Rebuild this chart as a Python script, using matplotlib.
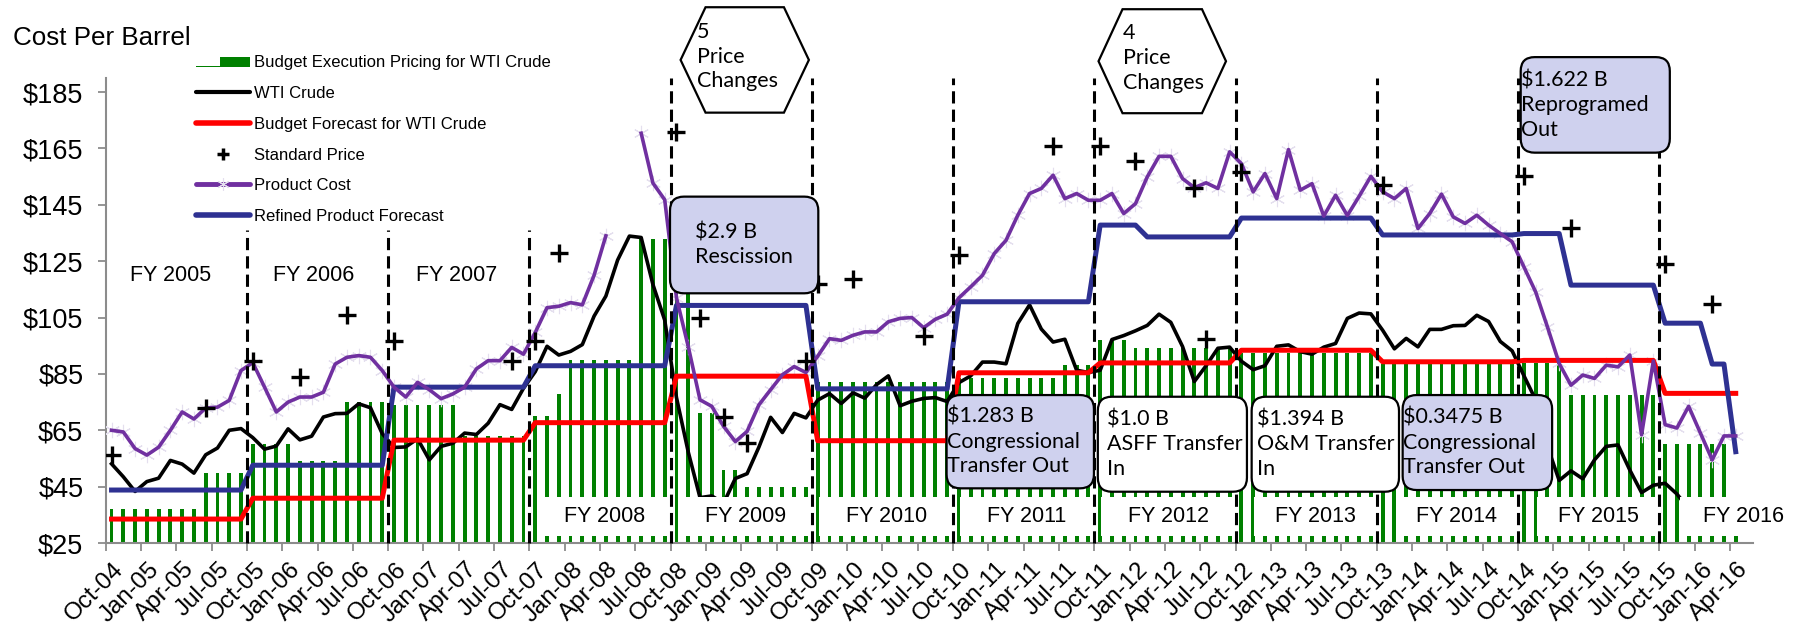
import matplotlib
matplotlib.use("Agg")
import matplotlib.pyplot as plt
import numpy as np
import pandas as pd
from matplotlib.lines import Line2D
from matplotlib.patches import FancyBboxPatch, Patch, Polygon, Rectangle
from matplotlib.legend_handler import HandlerPatch
from matplotlib.transforms import IdentityTransform, ScaledTranslation

plt.rcParams["font.family"] = ["Liberation Sans", "DejaVu Sans"]
CALLOUT_FONT = ["Lato", "DejaVu Sans"]

GREEN = "#008000"
RED = "#ff0000"
NAVY = "#2e3192"
PURPLE = "#7030a0"
LAVENDER = "#cfd1ee"
GREY = "#8c8c8c"

# monthly axis, Oct-04 .. Apr-16
months = pd.date_range("2004-10-01", "2016-04-01", freq="MS")
tick_labels = months[::3].strftime("%b-%y")
y_ticks = [25, 45, 65, 85, 105, 125, 145, 165, 185]

# WTI crude, monthly average $/bbl, Oct-04 .. Dec-15
wti_crude = [
    53.1, 48.5, 43.3,
    46.8, 48.0, 54.3, 53.0, 49.8, 56.3, 58.7, 65.0, 65.6, 62.4, 58.3, 59.4,
    65.5, 61.6, 62.9, 69.7, 70.9, 71.0, 74.4, 73.0, 63.8, 58.9, 59.1, 62.0,
    54.5, 59.3, 60.4, 64.0, 63.5, 67.5, 74.1, 72.4, 79.9, 85.8, 94.8, 91.7,
    93.0, 95.4, 105.5, 112.6, 125.4, 133.9, 133.4, 116.7, 104.1, 76.6, 57.3, 41.1,
    41.7, 39.1, 47.9, 49.6, 59.0, 69.6, 64.2, 71.0, 69.4, 75.7, 78.0, 74.5,
    78.3, 76.4, 81.2, 84.3, 73.7, 75.3, 76.3, 76.6, 75.2, 81.9, 84.3, 89.2,
    89.2, 88.6, 102.9, 109.5, 100.9, 96.3, 97.3, 86.3, 85.5, 86.3, 97.2, 98.6,
    100.3, 102.2, 106.2, 103.3, 94.7, 82.3, 87.9, 94.1, 94.5, 89.5, 86.5, 87.9,
    94.8, 95.3, 92.9, 92.0, 94.5, 95.8, 104.7, 106.6, 106.3, 100.5, 93.9, 97.6,
    94.6, 100.8, 100.8, 102.1, 102.2, 105.8, 103.6, 96.5, 93.2, 84.4, 75.8, 59.3,
    47.2, 50.6, 47.8, 54.5, 59.3, 59.8, 50.9, 42.9, 45.5, 46.2, 42.4, 37.2,
]

# refined product cost, Oct-04 .. Apr-16 (no data May/Jun-08)
product_cost = [
    65.0, 64.4, 58.5, 56.2, 59.0, 65.0, 71.5, 69.0, 72.9, 73.2, 75.6, 86.2,
    89.0, 80.3, 71.5, 75.0, 76.8, 76.8, 78.5, 88.5, 90.9, 91.5, 90.9, 86.2,
    80.3, 76.8, 82.0, 79.4, 76.2, 77.9, 80.3, 86.8, 89.7, 89.7, 94.4, 92.0,
    99.7, 108.5, 109.0, 110.3, 109.5, 120.0, 134.0, np.nan, np.nan, 170.4, 152.7, 146.8,
    112.0, 94.7, 75.8, 73.5, 66.4, 61.0, 64.6, 74.0, 79.4, 84.7, 87.6, 85.5,
    91.3, 97.5, 96.9, 98.7, 99.9, 99.9, 103.5, 104.7, 105.0, 101.4, 104.4, 106.2,
    112.0, 115.9, 120.0, 127.7, 132.4, 141.3, 149.0, 150.8, 155.5, 147.2, 149.0, 146.6,
    146.6, 149.0, 141.9, 145.4, 154.9, 162.2, 162.2, 154.3, 151.1, 152.8, 150.8, 163.8,
    159.6, 149.6, 156.1, 147.2, 164.6, 150.2, 152.5, 141.0, 148.4, 141.2, 148.0, 155.1,
    149.6, 147.2, 150.8, 136.6, 141.9, 148.8, 140.7, 138.4, 141.3, 137.8, 134.8, 131.9,
    123.0, 114.1, 101.7, 88.7, 81.0, 84.6, 83.4, 88.1, 87.5, 91.7, 63.4, 89.6,
    67.0, 65.8, 73.5, 64.0, 54.5, 63.0, 63.0,
]

# budget execution price (bars): level and number of months at that level
exec_price_levels = [37, 50, 60, 54, 75, 74, 63, 70, 78, 90, 133, 71, 51, 45,
                     82, 83.5, 88, 97, 94.3, 92.5, 88.5, 88.7, 77.5, 60, 40]
exec_price_months = [8, 4, 4, 4, 4, 6, 6, 2, 1, 6, 5, 2, 2, 6,
                     12, 9, 3, 3, 9, 12, 12, 4, 8, 6, 1]

# budget forecast for WTI crude, one level per fiscal year
budget_forecast_levels = [33.5, 40.9, 61.5, 67.7, 84.2, 61.3, 85.4, 88.9, 93.4, 89.3, 89.8, 78.1]
budget_forecast_months = [12, 12, 12, 12, 12, 12, 12, 12, 12, 12, 12, 7]

# refined product forecast, with mid-year changes
refined_forecast_levels = [43.8, 52.6, 80.3, 87.9, 109.3, 79.7, 110.6, 137.8, 133.6,
                           140.3, 134.3, 134.8, 116.5, 103.0, 88.5, 57.4]
refined_forecast_months = [12, 12, 12, 12, 12, 12, 12, 4, 8, 12, 12, 4, 8, 4, 2, 1]

standard_price_dates = ["2004-10", "2005-06", "2005-10", "2006-02", "2006-06", "2006-10",
                        "2007-08", "2007-10", "2007-12", "2008-10", "2008-12", "2009-02",
                        "2009-04", "2009-09", "2009-10", "2010-01", "2010-07", "2010-10",
                        "2011-06", "2011-10", "2012-01", "2012-06", "2012-07", "2012-10",
                        "2013-10", "2014-10", "2015-02", "2015-10", "2016-02"]
standard_price = [56.2, 73.0, 89.5, 84.0, 106.0, 96.5, 89.7, 96.8, 127.8, 171.0, 105.0, 69.8,
                  60.6, 89.5, 117.0, 118.5, 98.5, 127.3, 165.8, 166.0, 160.5, 151.0, 97.4,
                  156.8, 152.0, 155.3, 136.8, 124.1, 109.8]

# fiscal year start (October) boundaries, in months from Oct-04
fy_bounds = [12, 24, 36, 48, 60, 72, 84, 96, 108, 120, 132]
fy_bound_tops = [136, 136, 136, 190, 190, 190, 190, 190, 190, 190, 190]

fy_top_labels = ["FY 2005", "FY 2006", "FY 2007"]
fy_top_x = [5.5, 17.7, 29.8]

fy_box_labels = ["FY 2008", "FY 2009", "FY 2010", "FY 2011", "FY 2012",
                 "FY 2013", "FY 2014", "FY 2015", "FY 2016"]
fy_box_left = [36.7, 48.7, 60.65, 72.55, 84.6, 97.6, 109.6, 121.6, 133.8]
fy_box_right = [48.0, 60.0, 72.0, 84.0, 96.0, 108.0, 120.0, 132.0, 144.6]

callout_texts = ["\\$2.9 B\nRescission",
                 "\\$1.283 B\nCongressional\nTransfer Out",
                 "\\$1.0 B\nASFF Transfer\nIn",
                 "\\$1.394 B\nO&M Transfer\nIn",
                 "\\$0.3475 B\nCongressional\nTransfer Out",
                 "\\$1.622 B\nReprogramed\nOut"]
callout_left = [47.95, 71.45, 84.3, 97.37, 110.2, 120.23]
callout_right = [60.55, 83.97, 96.97, 109.89, 122.9, 132.9]
callout_bottom = [113.6, 44.4, 43.2, 43.2, 43.8, 163.5]
callout_top = [147.9, 77.5, 76.9, 76.9, 77.5, 197.4]
callout_text_x = [50.1, 71.45, 85.1, 97.8, 110.2, 120.23]
callout_shaded = [True, True, False, False, True, True]

hex_texts = ["5\nPrice\nChanges", "4\nPrice\nChanges"]
hex_left = [48.85, 84.36]
hex_right = [59.75, 95.19]
hex_inset = [2.12, 2.04]
hex_bottom = [177.7, 177.5]
hex_top = [215.1, 214.4]
hex_text_x = [50.24, 86.4]

x = np.arange(len(months)) + 0.5
exec_price = np.repeat(exec_price_levels, exec_price_months)
budget_forecast = np.repeat(budget_forecast_levels, budget_forecast_months)
refined_forecast = np.repeat(refined_forecast_levels, refined_forecast_months)
sp_x = months.get_indexer(pd.to_datetime(standard_price_dates)) + 0.5

fig = plt.figure(figsize=(18, 6.36), dpi=100)
ax = fig.add_axes([0.0587, 0.1462, 0.9154, 0.7312])
ax.set_xlim(0, 140)
ax.set_ylim(25, 190)

ax.bar(x, exec_price - 25, bottom=25, width=0.33, color=GREEN, zorder=2)
ax.plot(x[:len(wti_crude)], wti_crude, color="black", lw=2.6, zorder=4)
ax.plot(x, budget_forecast, color=RED, lw=3.6, zorder=4.1)
ax.plot(x, refined_forecast, color=NAVY, lw=3.6, zorder=4.2)
ax.plot(x, product_cost, ls="none", marker=(6, 2, 0), ms=11, mew=0.8,
        mec="#e4dfee", zorder=3)
ax.plot(x, product_cost, color=PURPLE, lw=2.6, zorder=4.3)
ax.plot(sp_x, standard_price, ls="none", marker="+", ms=13, mew=2.4,
        color="black", zorder=5)

for b, top in zip(fy_bounds, fy_bound_tops):
    ax.plot([b, b], [25, top], color="black", lw=2.2, ls=(0, (4, 2)),
            zorder=7, clip_on=False)

for label, tx in zip(fy_top_labels, fy_top_x):
    ax.text(tx, 120, label, ha="center", va="center", fontsize=15.5)

for label, x0, x1 in zip(fy_box_labels, fy_box_left, fy_box_right):
    ax.add_patch(Rectangle((x0, 27.4), x1 - x0, 13.8, facecolor="white",
                           edgecolor="none", zorder=6, clip_on=False))
    ax.text((x0 + x1) / 2, 34.3, label, ha="center", va="center",
            fontsize=15.5, zorder=6.5, clip_on=False)

# rounded callouts are drawn in pixel space so the corners stay circular
for text, x0, x1, y0, y1, tx, shaded in zip(callout_texts, callout_left, callout_right,
                                            callout_bottom, callout_top,
                                            callout_text_x, callout_shaded):
    (px0, py0), (px1, py1) = ax.transData.transform([(x0, y0), (x1, y1)])
    ax.add_patch(FancyBboxPatch((px0, py0), px1 - px0, py1 - py0,
                                boxstyle="round,pad=0,rounding_size=14",
                                transform=IdentityTransform(),
                                facecolor=LAVENDER if shaded else "white",
                                edgecolor="black", lw=1.6, zorder=8, clip_on=False))
    ax.text(tx, (y0 + y1) / 2, text, ha="left", va="center", family=CALLOUT_FONT,
            fontsize=15.5, linespacing=1.3, zorder=9, clip_on=False)

for text, x0, x1, inset, y0, y1, tx in zip(hex_texts, hex_left, hex_right, hex_inset,
                                           hex_bottom, hex_top, hex_text_x):
    ym = (y0 + y1) / 2
    verts = [(x0, ym), (x0 + inset, y1), (x1 - inset, y1),
             (x1, ym), (x1 - inset, y0), (x0 + inset, y0)]
    ax.add_patch(Polygon(verts, closed=True, facecolor="white", edgecolor="black",
                         lw=1.6, zorder=8, clip_on=False))
    ax.text(tx, ym + 1.2, text, ha="left", va="center", family=CALLOUT_FONT,
            fontsize=15.5, linespacing=1.3, zorder=9, clip_on=False)

ax.set_yticks(y_ticks)
ax.set_yticklabels([f"\\${v}" for v in y_ticks], fontsize=19.5)
ax.set_xticks(np.arange(0, len(months), 3))
ax.set_xticklabels(tick_labels, rotation=45, ha="right", va="top",
                   rotation_mode="anchor", fontsize=17.5)
ax.tick_params(axis="both", color=GREY, width=1.3, length=6, direction="out")
ax.tick_params(axis="y", pad=10)
ax.tick_params(axis="x", pad=5)
shift = ScaledTranslation(7 / 100, 0, fig.dpi_scale_trans)
for lbl in ax.get_xticklabels():
    lbl.set_transform(lbl.get_transform() + shift)
for side in ["top", "right"]:
    ax.spines[side].set_visible(False)
for side in ["left", "bottom"]:
    ax.spines[side].set_color(GREY)
    ax.spines[side].set_linewidth(1.5)

fig.text(13 / 1800, 1 - 38 / 636, "Cost Per Barrel", fontsize=18.7, va="center")


def exec_handle(legend, orig_handle, xdescent, ydescent, width, height, fontsize):
    x0 = -xdescent
    xm = x0 + 0.45 * width
    yb = -ydescent + 0.05 * height
    yt = -ydescent + 0.85 * height
    return Polygon([(x0, yb), (x0, yb + 1.0), (xm, yb + 1.0), (xm, yt),
                    (x0 + width, yt), (x0 + width, yb)], closed=True)


exec_patch = Patch(facecolor=GREEN, edgecolor="none")
legend_handles = [
    exec_patch,
    Line2D([], [], color="black", lw=3, solid_capstyle="round"),
    Line2D([], [], color=RED, lw=4, solid_capstyle="round"),
    Line2D([], [], ls="none", marker="+", ms=8, mew=2.5, color="black"),
    Line2D([], [], color=PURPLE, lw=3.5, solid_capstyle="round",
           marker=(6, 2, 0), ms=9, mew=0.8, mec="#e4dfee"),
    Line2D([], [], color=NAVY, lw=4, solid_capstyle="round"),
]
legend_labels = ["Budget Execution Pricing for WTI Crude", "WTI Crude",
                 "Budget Forecast for WTI Crude", "Standard Price", "Product Cost",
                 "Refined Product Forecast"]
fig.legend(legend_handles, legend_labels, loc="upper left",
           bbox_to_anchor=(196 / 1800, 1 - 55 / 636), frameon=False, fontsize=12,
           handlelength=3.25, handleheight=0.8, handletextpad=0.26, labelspacing=0.94,
           borderpad=0, borderaxespad=0,
           handler_map={exec_patch: HandlerPatch(patch_func=exec_handle)})

fig.savefig("out.png", dpi=100)
